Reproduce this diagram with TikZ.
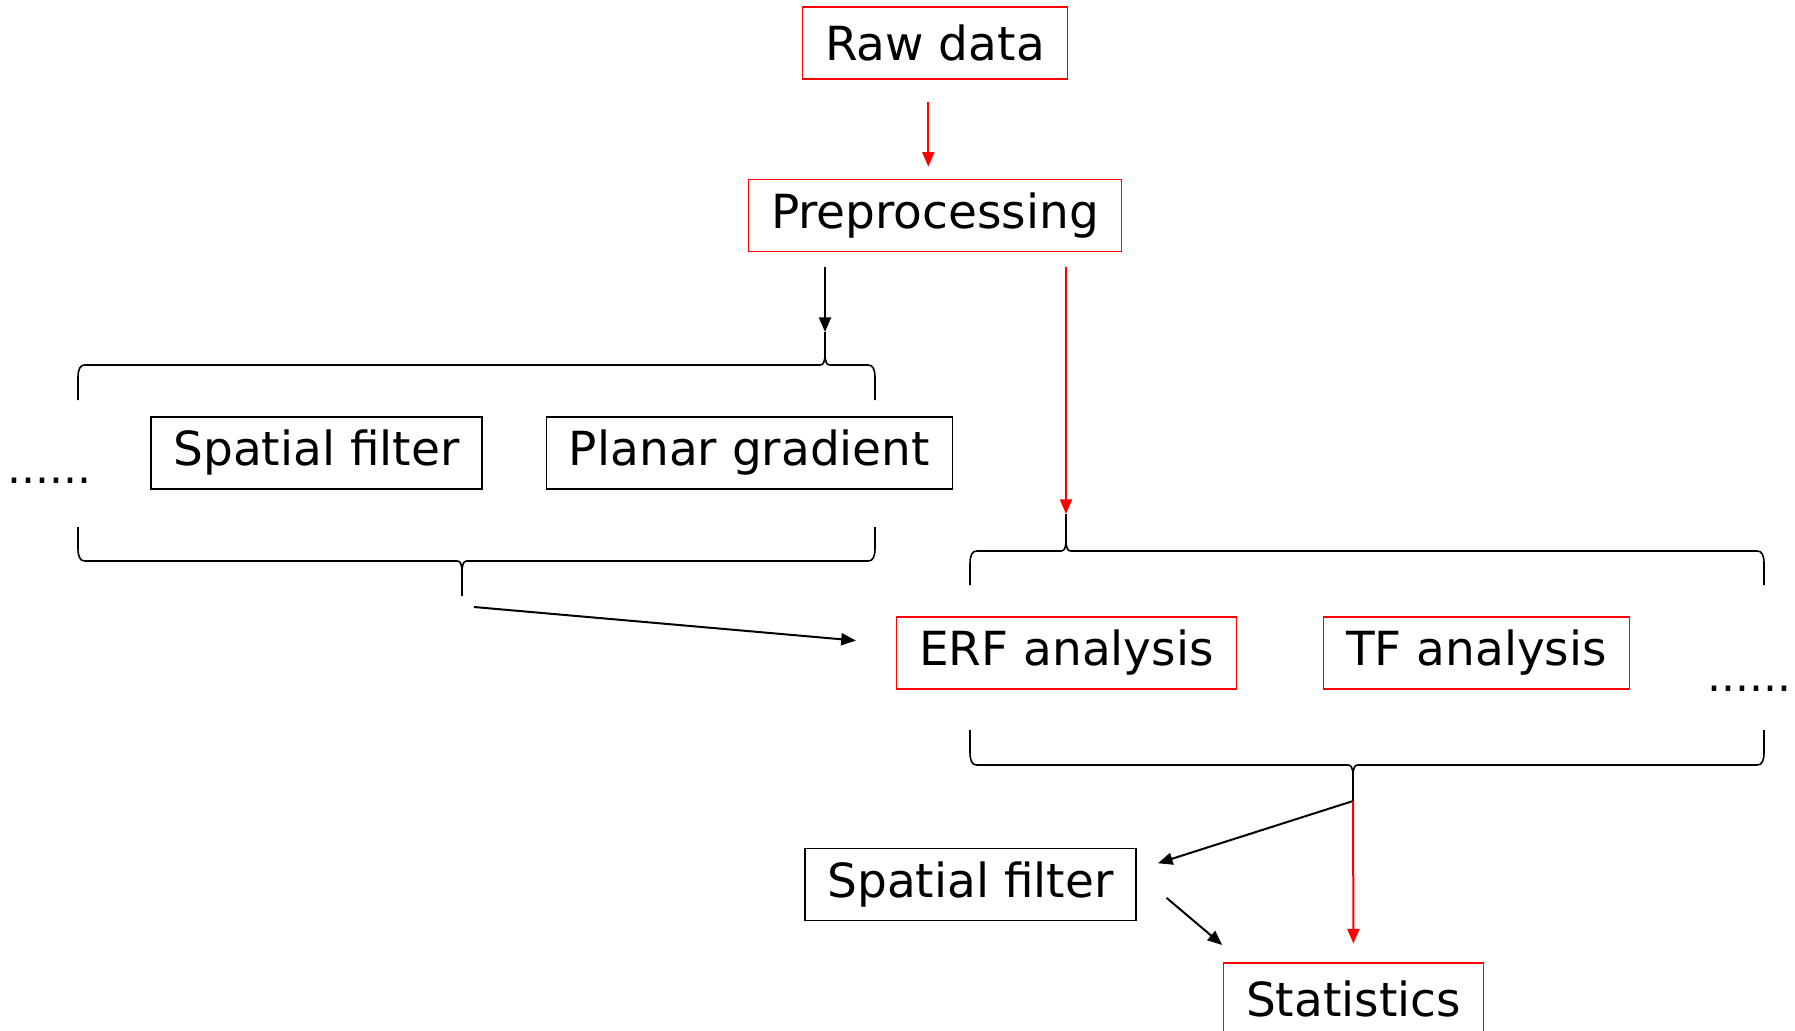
\documentclass[tikz,border=0pt]{standalone}
\usepackage{fontspec}
\setmainfont{DejaVu Sans}
\usetikzlibrary{arrows.meta}

\tikzset{every picture/.style={line width=1.2pt}}
\tikzset{
  redbox/.style={draw={rgb, 255:red, 255; green, 0; blue, 0 }, line width=1.2pt, minimum height=54pt, inner xsep=17pt, inner ysep=0pt, font=\fontsize{35.25}{42}\selectfont},
  blackbox/.style={redbox, draw=black},
  dotstext/.style={inner sep=0pt, anchor=base west, font=\fontsize{33}{40}\selectfont},
  redarrow/.style={draw={rgb, 255:red, 255; green, 0; blue, 0 }, line width=1.5pt, -{Triangle[length=11pt,width=9pt]}},
  blackarrow/.style={draw=black, line width=1.5pt, -{Triangle[length=11pt,width=9pt]}}
}

\begin{document}
\begin{tikzpicture}[x=0.75pt,y=0.75pt,yscale=-1,xscale=1]
\useasboundingbox (0,0) rectangle (1795,1031); %set diagram to the size of the reference

% Text Node
\node [redbox] (raw) at (935,43) {Raw data};
% Text Node
\node [redbox] (prep) at (935,215.5) {Preprocessing};
% Text Node
\node [blackbox] (sfa) at (316.5,453) {Spatial filter};
% Text Node
\node [blackbox] (pg) at (749.5,453) {Planar gradient};
% Text Node
\node [dotstext] (ldots) at (7,483) {......};
% Text Node
\node [redbox] (erf) at (1066.5,653) {ERF analysis};
% Text Node
\node [redbox] (tf) at (1476.5,653) {TF analysis};
% Text Node
\node [dotstext] (rdots) at (1707,691) {......};
% Text Node
\node [blackbox] (sfb) at (970.5,884.5) {Spatial filter};
% Text Node
\node [redbox] (stats) at (1353.5,999) {Statistics};

%Shape: Brace [top left]
\draw (78,400) -- (78,378) .. controls (78,369) and (80,365) .. (85,365) -- (820,365) .. controls (823,365) and (825,363) .. (825,353) -- (825,332) -- (825,353) .. controls (825,363) and (827,365) .. (830,365) -- (868,365) .. controls (873,365) and (875,369) .. (875,378) -- (875,400) ;
%Shape: Brace [bottom left]
\draw (78,527) -- (78,548) .. controls (78,557) and (80,561) .. (85,561) -- (457,561) .. controls (460,561) and (462,563) .. (462,573) -- (462,596) -- (462,573) .. controls (462,563) and (464,561) .. (467,561) -- (868,561) .. controls (873,561) and (875,557) .. (875,548) -- (875,527) ;
%Shape: Brace [top right]
\draw (970,585) -- (970,564) .. controls (970,555) and (972,551) .. (977,551) -- (1061,551) .. controls (1064,551) and (1066,549) .. (1066,539) -- (1066,514) -- (1066,539) .. controls (1066,549) and (1068,551) .. (1071,551) -- (1757,551) .. controls (1762,551) and (1764,555) .. (1764,564) -- (1764,585) ;
%Shape: Brace [bottom right]
\draw (970,730) -- (970,752) .. controls (970,761) and (972,765) .. (977,765) -- (1348,765) .. controls (1351,765) and (1353,767) .. (1353,777) -- (1353,801) -- (1353,777) .. controls (1353,767) and (1355,765) .. (1358,765) -- (1757,765) .. controls (1762,765) and (1764,761) .. (1764,752) -- (1764,730) ;

% brace tips
\coordinate (ltop) at (825,332);
\coordinate (lbot) at (462,596);
\coordinate (lout) at (474,607);
\coordinate (rtop) at (1066,514);
\coordinate (rbot) at (1353,801);

%Straight Lines
\draw [redarrow, shorten <=16.5pt, shorten >=9pt] ([xshift=-5pt]raw.south) -- ([xshift=-5pt]prep.north) ;
\draw [blackarrow, shorten <=11pt] (prep.south -| ltop) -- (ltop) ;
\draw [redarrow, shorten <=11pt] (prep.south -| rtop) -- (rtop) ;
\draw [blackarrow, shorten >=30pt] (lout) -- (erf.177) ;
\draw [blackarrow, shorten >=16.5pt] (rbot) -- (sfb.5) ;
\draw [redarrow, shorten >=14pt] (rbot) -- (stats.north) ;
\draw [blackarrow, shorten <=29pt, shorten >=20pt] (sfb.4) -- ([xshift=15pt]stats.north west) ;

\end{tikzpicture}
\end{document}
